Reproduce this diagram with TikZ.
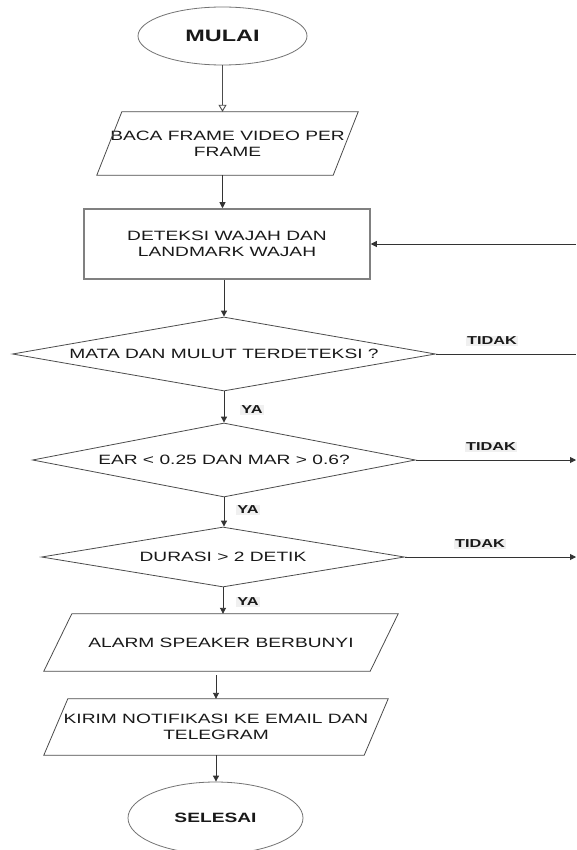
\documentclass[tikz,border=0pt]{standalone}
\usepackage{fontspec}
\setmainfont{Liberation Sans}
\newfontfamily\wide[FakeStretch=1.42]{Liberation Sans}
\usetikzlibrary{shapes.geometric,arrows.meta}
\begin{document}
\begin{tikzpicture}[x=1pt,y=-1pt,
  every node/.style={font=\wide\fontsize{13.5}{16}\selectfont, text=black!90},
  shapeline/.style={draw=black!70, line width=0.8pt},
  pbox/.style={inner sep=0pt, align=center},
  dia/.style={diamond, draw=black!70, line width=0.8pt, inner sep=0pt},
  term/.style={ellipse, draw=black!55, line width=0.8pt, inner sep=0pt},
  arr/.style={draw=black!80, line width=0.9pt, -{Triangle[length=6pt,width=6pt]}},
  arropen/.style={draw=black!70, line width=0.9pt, -{Triangle[open,length=7pt,width=8pt]}},
  plain/.style={draw=black!80, line width=0.9pt},
  lab/.style={font=\wide\bfseries\fontsize{11.5}{13}\selectfont, fill=black!6, inner sep=1pt}
]
\useasboundingbox (0,0) rectangle (576,850);
\fill[white] (0,0) rectangle (576,850);

% terminals
\node[term, minimum width=169pt, minimum height=58pt,
      font=\wide\bfseries\fontsize{16.5}{18}\selectfont] (mulai) at (222.5,36) {MULAI};
\node[term, minimum width=175pt, minimum height=72pt,
      font=\wide\bfseries\fontsize{13.5}{16}\selectfont] (selesai) at (215.5,818) {SELESAI};

% input
\node[pbox, minimum width=261pt, minimum height=63pt] (baca) at (227.5,143.5) {BACA FRAME VIDEO PER\\FRAME};
\draw[shapeline] ([xshift=25pt]baca.north west) -- (baca.north east) -- ([xshift=-25pt]baca.south east) -- (baca.south west) -- cycle;

% process
\node[draw=black!50, line width=1.5pt, minimum width=286pt, minimum height=70pt, inner sep=0pt, align=center] (det) at (227,244) {DETEKSI WAJAH DAN\\LANDMARK WAJAH};

% decisions
\node[dia, aspect=5.72, minimum width=423pt, minimum height=74pt] (d1) at (224,354) {MATA DAN MULUT TERDETEKSI ?};
\node[dia, aspect=5.18, minimum width=383pt, minimum height=74pt] (d2) at (224,460) {EAR < 0.25 DAN MAR > 0.6?};
\node[dia, aspect=6.05, minimum width=363pt, minimum height=60pt] (d3) at (223,557) {DURASI > 2 DETIK};

% outputs
\node[pbox, minimum width=354pt, minimum height=57pt] (alarm) at (221,642.5) {ALARM SPEAKER BERBUNYI};
\draw[shapeline] ([xshift=28pt]alarm.north west) -- (alarm.north east) -- ([xshift=-28pt]alarm.south east) -- (alarm.south west) -- cycle;
\node[pbox, minimum width=344pt, minimum height=56pt] (kirim) at (216,727) {KIRIM NOTIFIKASI KE EMAIL DAN\\TELEGRAM};
\draw[shapeline] ([xshift=24pt]kirim.north west) -- (kirim.north east) -- ([xshift=-24pt]kirim.south east) -- (kirim.south west) -- cycle;

% main flow
\draw[arropen] (mulai.south) -- (mulai.south |- baca.north);
\draw[arr] (baca.south -| mulai.south) -- (det.north -| mulai.south);
\draw[arr] (det.south -| d1.north) -- (d1.north);
\draw[arr] (d1.south) -- (d2.north);
\draw[arr] (d2.south) -- (d2.south |- d3.north);
\draw[arr] (d3.south) -- (d3.south |- alarm.north);
\draw[arr, shorten <=4pt] (alarm.south -| kirim.north) -- (kirim.north);
\draw[arr] (kirim.south) -- (kirim.south |- selesai.north);

% side branches
\coordinate (back) at (576,244);
\coordinate (e1) at (576,354);
\coordinate (e2) at (576,460);
\coordinate (e3) at (576,557);
\draw[arr] (back) -- (det.east);
\draw[plain] (d1.east) -- (e1);
\draw[arr] (d2.east) -- (e2);
\draw[arr] (d3.east) -- (e3);

% labels
\node[lab] (t1) at (492,341) {TIDAK};
\node[lab] (t2) at (491,447) {TIDAK};
\node[lab] (t3) at (480,544) {TIDAK};
\node[lab] (y1) at (252,410) {YA};
\node[lab] (y2) at (248,510) {YA};
\node[lab] (y3) at (248,602) {YA};
\end{tikzpicture}
\end{document}
